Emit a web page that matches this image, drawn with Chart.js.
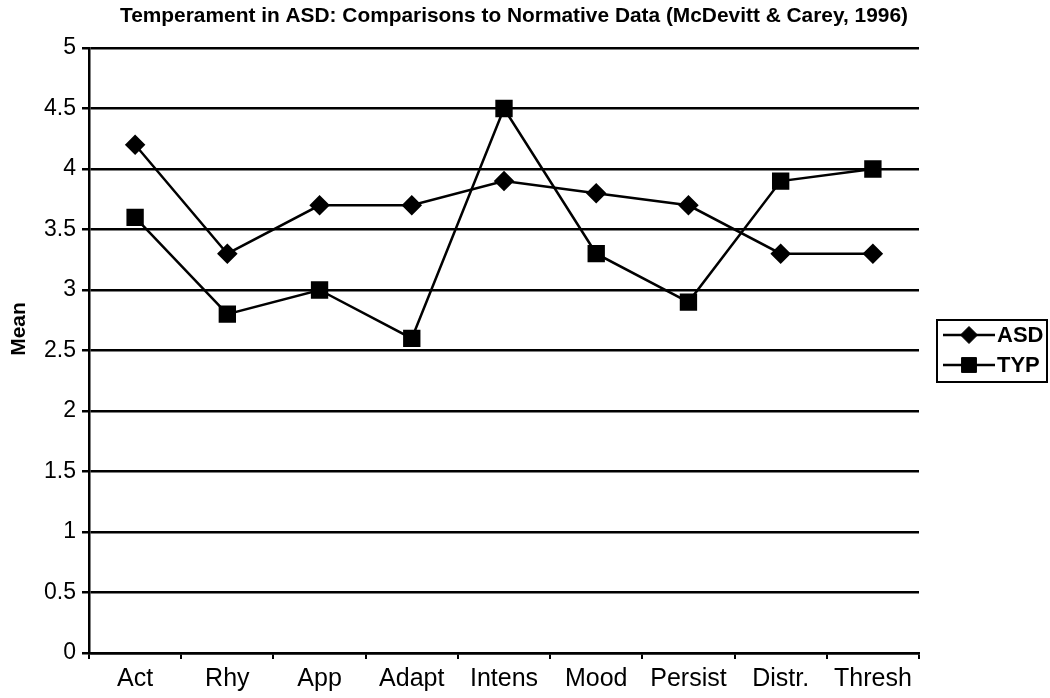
<!DOCTYPE html>
<html>
<head>
<meta charset="utf-8">
<script src="https://cdn.jsdelivr.net/npm/chart.js@4/dist/chart.umd.min.js"></script>
<style>
  html, body { margin: 0; padding: 0; background: #fff; }
  #wrap { width: 1050px; height: 698px; }
</style>
</head>
<body>
<div id="wrap"><canvas id="c" width="1050" height="698"></canvas></div>
<script>
const categories = ["Act", "Rhy", "App", "Adapt", "Intens", "Mood", "Persist", "Distr.", "Thresh"];
const asdValues = [4.2, 3.3, 3.7, 3.7, 3.9, 3.8, 3.7, 3.3, 3.3];
const typValues = [3.6, 2.8, 3.0, 2.6, 4.5, 3.3, 2.9, 3.9, 4.0];
const seriesNames = ["ASD", "TYP"];
const titleText = "Temperament in ASD: Comparisons to Normative Data (McDevitt & Carey, 1996)";
const yTitle = "Mean";

const FONT = "'Liberation Sans', Arial, sans-serif";
const NARROW = "'Liberation Sans Narrow', 'Arial Narrow', " + FONT;

const extraText = {
  id: 'extraText',
  afterDraw(chart) {
    const ctx = chart.ctx;
    ctx.save();
    ctx.fillStyle = '#000';
    // chart title
    ctx.font = "bold 21px " + NARROW;
    ctx.textAlign = 'center';
    ctx.textBaseline = 'alphabetic';
    const tw = ctx.measureText(titleText).width;
    const sx = 788 / tw;
    ctx.save();
    ctx.translate(514, 22);
    ctx.scale(sx, 1);
    ctx.fillText(titleText, 0, 0);
    ctx.restore();
    // y axis title
    ctx.save();
    ctx.translate(25, 329);
    ctx.rotate(-Math.PI / 2);
    ctx.font = "bold 21px " + FONT;
    ctx.textAlign = 'center';
    ctx.textBaseline = 'alphabetic';
    ctx.fillText(yTitle, 0, 0);
    ctx.restore();
    ctx.restore();
  }
};

const boxLegend = {
  id: 'boxLegend',
  afterDraw(chart) {
    const ctx = chart.ctx;
    const x0 = 937, y0 = 320, w = 110, h = 62;
    ctx.save();
    ctx.strokeStyle = '#000';
    ctx.lineWidth = 2;
    ctx.strokeRect(x0, y0, w, h);
    chart.data.datasets.forEach((ds, i) => {
      const cy = y0 + 15 + i * 30;
      ctx.strokeStyle = ds.borderColor;
      ctx.lineWidth = ds.borderWidth;
      ctx.beginPath();
      ctx.moveTo(x0 + 6, cy);
      ctx.lineTo(x0 + 58, cy);
      ctx.stroke();
      ctx.fillStyle = ds.pointBackgroundColor;
      ctx.strokeStyle = ds.pointBorderColor;
      ctx.lineWidth = 1;
      Chart.helpers.drawPoint(ctx, {pointStyle: ds.pointStyle, rotation: 0, radius: ds.pointRadius, borderWidth: 1}, x0 + 32, cy);
      ctx.fillStyle = '#000';
      ctx.font = "bold 22px " + FONT;
      ctx.textBaseline = 'middle';
      ctx.textAlign = 'left';
      ctx.fillText(ds.label, x0 + 60, cy + 1);
    });
    ctx.restore();
  }
};

const ctx = document.getElementById('c').getContext('2d');
new Chart(ctx, {
  type: 'line',
  data: {
    labels: categories,
    datasets: [
      {
        label: seriesNames[0],
        data: asdValues,
        borderColor: '#000',
        backgroundColor: '#000',
        pointBackgroundColor: '#000',
        pointBorderColor: '#000',
        borderWidth: 2.5,
        pointStyle: 'rectRot',
        pointRadius: 8.5,
        tension: 0
      },
      {
        label: seriesNames[1],
        data: typValues,
        borderColor: '#000',
        backgroundColor: '#000',
        pointBackgroundColor: '#000',
        pointBorderColor: '#000',
        borderWidth: 2.5,
        pointStyle: 'rect',
        pointRadius: 10.5,
        tension: 0
      }
    ]
  },
  options: {
    responsive: false,
    animation: false,
    layout: { padding: { left: 0, right: 131, top: 48, bottom: 0 } },
    plugins: {
      legend: { display: false },
      tooltip: { enabled: false },
      title: { display: false }
    },
    scales: {
      x: {
        offset: true,
        grid: { display: true, drawOnChartArea: false, drawTicks: true, tickLength: 6, offset: true, color: '#000', lineWidth: 2 },
        border: { display: true, color: '#000', width: 2.5 },
        ticks: { color: '#000', font: { family: FONT, size: 25 }, padding: 5, maxRotation: 0, autoSkip: false },
        afterFit(scale) { scale.height = 45; }
      },
      y: {
        min: 0,
        max: 5,
        ticks: {
          stepSize: 0.5, color: '#000', font: { family: FONT, size: 23 }, padding: 6,
          callback: (v) => String(Math.round(v * 10) / 10)
        },
        grid: { color: '#000', lineWidth: 2.5, tickLength: 7 },
        border: { display: true, color: '#000', width: 2.5 },
        title: { display: false },
        afterFit(scale) { scale.width = 89; }
      }
    }
  },
  plugins: [boxLegend, extraText]
});
</script>
</body>
</html>
